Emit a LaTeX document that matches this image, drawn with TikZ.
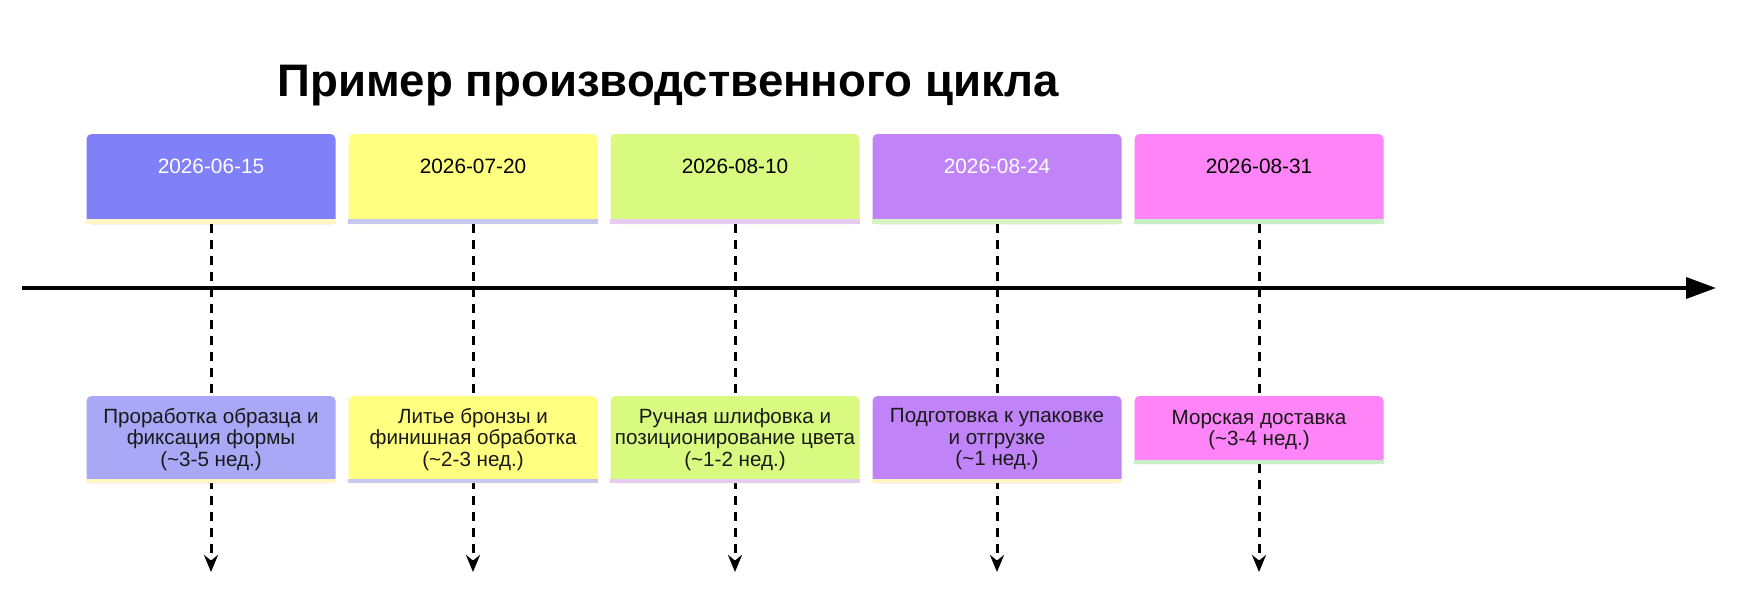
\documentclass[tikz,border=0pt]{standalone}
\usepackage{fontspec}
\setmainfont{Liberation Sans}
\usetikzlibrary{arrows.meta,positioning}

\definecolor{blueA}{HTML}{8080F8}
\definecolor{blueB}{HTML}{A8A8F6}
\definecolor{yellowA}{HTML}{FFFF80}
\definecolor{limeA}{HTML}{D8FA80}
\definecolor{violetA}{HTML}{C084F8}
\definecolor{pinkA}{HTML}{FF84F8}
\definecolor{stripYel}{HTML}{FFF6C4}
\definecolor{stripLav}{HTML}{C8C8EE}
\definecolor{stripPink}{HTML}{E6CCF0}
\definecolor{stripGrn}{HTML}{D8F4C4}
\definecolor{stripMint}{HTML}{C8EEC8}

\begin{document}
\begin{tikzpicture}[
  x=1pt, y=-1pt,
  datebox/.style={rounded corners=5pt, minimum width=249pt, minimum height=90pt, inner sep=0pt},
  datetxt/.style={font=\fontsize{20.8}{24}\selectfont},
  stagebox/.style={rounded corners=5pt, minimum width=249pt, minimum height=87pt, inner sep=0pt,
                   align=center, font=\fontsize{20.6}{21.5}\selectfont, text=black!90},
  tick/.style={line width=3pt, dash pattern=on 9pt off 7pt, -{Stealth[length=17pt,width=14pt]}},
  axis/.style={line width=3.6pt, -{Triangle[length=30pt,width=21pt]}}
]
  \useasboundingbox[fill=white] (0,0) rectangle (1759,608);

  \node[anchor=base west, font=\fontsize{45.6}{50}\selectfont\bfseries] (title) at (274,96.5)
      {Пример производственного цикла};

  % dates on top
  \node[datebox, fill=blueA]   (d1) at (211,179)  {};
  \node[datebox, fill=yellowA] (d2) at (473,179)  {};
  \node[datebox, fill=limeA]   (d3) at (735,179)  {};
  \node[datebox, fill=violetA] (d4) at (997,179)  {};
  \node[datebox, fill=pinkA]   (d5) at (1259,179) {};
  \fill[stripYel]  (d1.south west) rectangle ([yshift=5pt]d1.south east);
  \fill[stripLav]  (d2.south west) rectangle ([yshift=5pt]d2.south east);
  \fill[stripPink] (d3.south west) rectangle ([yshift=5pt]d3.south east);
  \fill[stripGrn]  (d4.south west) rectangle ([yshift=5pt]d4.south east);
  \fill[stripMint] (d5.south west) rectangle ([yshift=5pt]d5.south east);

  \node[datetxt, text=white] (t1) at (211,166)  {2026-06-15};
  \node[datetxt]             (t2) at (473,166)  {2026-07-20};
  \node[datetxt]             (t3) at (735,166)  {2026-08-10};
  \node[datetxt, text=white] (t4) at (997,166)  {2026-08-24};
  \node[datetxt]             (t5) at (1259,166) {2026-08-31};

  % dashed drops
  \coordinate (e1) at (211,572);
  \coordinate (e2) at (473,572);
  \coordinate (e3) at (735,572);
  \coordinate (e4) at (997,572);
  \coordinate (e5) at (1259,572);
  \draw[tick] (d1.south) -- (e1);
  \draw[tick] (d2.south) -- (e2);
  \draw[tick] (d3.south) -- (e3);
  \draw[tick] (d4.south) -- (e4);
  \draw[tick] (d5.south) -- (e5);

  % time axis
  \coordinate (ax0) at (22,288);
  \coordinate (ax1) at (1716,288);
  \draw[axis] (ax0) -- (ax1);

  % stages
  \node[stagebox, fill=blueB]   (s1) at (211,439.5)
      {Проработка образца и\\фиксация формы\\(\textasciitilde3-5 нед.)};
  \node[stagebox, fill=yellowA] (s2) at (473,439.5)
      {Литье бронзы и\\финишная обработка\\(\textasciitilde2-3 нед.)};
  \node[stagebox, fill=limeA]   (s3) at (735,439.5)
      {Ручная шлифовка и\\позиционирование цвета\\(\textasciitilde1-2 нед.)};
  \node[stagebox, fill=violetA] (s4) at (997,439.5)
      {Подготовка к упаковке\\и отгрузке\\(\textasciitilde1 нед.)};
  \node[stagebox, fill=pinkA, minimum height=68pt] (s5) at (1259,430)
      {Морская доставка\\(\textasciitilde3-4 нед.)};
  \fill[stripYel]  (s1.south west) rectangle ([yshift=4pt]s1.south east);
  \fill[stripLav]  (s2.south west) rectangle ([yshift=4pt]s2.south east);
  \fill[stripPink] (s3.south west) rectangle ([yshift=4pt]s3.south east);
  \fill[stripYel]  (s4.south west) rectangle ([yshift=4pt]s4.south east);
  \fill[stripMint] (s5.south west) rectangle ([yshift=4pt]s5.south east);
\end{tikzpicture}
\end{document}
